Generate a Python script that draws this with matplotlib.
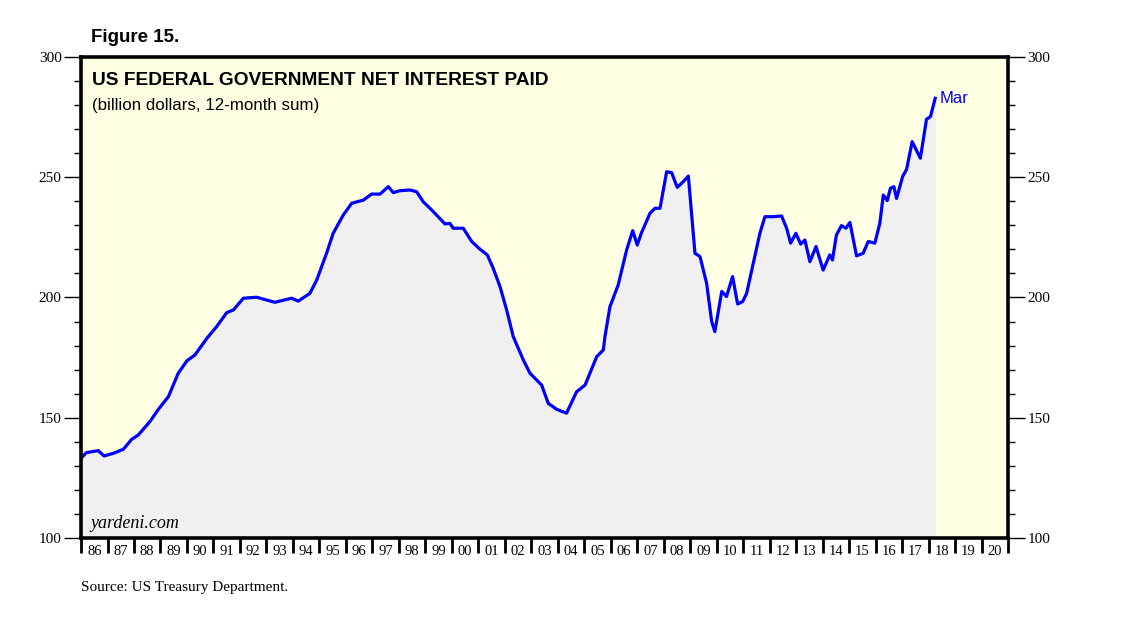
import matplotlib
matplotlib.use("Agg")
import matplotlib.pyplot as plt
from matplotlib.ticker import MultipleLocator, FixedLocator, NullFormatter, FixedFormatter

# ---- data (decimal year, billion dollars, 12-month sum) ----
years = [1986.00, 1986.20, 1986.65, 1986.87, 1987.22, 1987.60, 1987.91, 1988.16, 1988.60,
         1988.92, 1989.30, 1989.67, 1990.00, 1990.30, 1990.75, 1991.12, 1991.50, 1991.75,
         1992.13, 1992.63, 1993.32, 1993.95, 1994.20, 1994.64, 1994.90, 1995.27, 1995.52,
         1995.90, 1996.22, 1996.66, 1996.97, 1997.29, 1997.60, 1997.79, 1998.04, 1998.42,
         1998.67, 1998.92, 1999.24, 1999.74, 1999.93, 2000.05, 2000.43, 2000.75, 2001.06,
         2001.34, 2001.56, 2001.82, 2002.07, 2002.32, 2002.70, 2002.95, 2003.39, 2003.64,
         2003.96, 2004.33, 2004.71, 2005.03, 2005.47, 2005.72, 2005.78, 2005.97, 2006.28,
         2006.60, 2006.83, 2007.00, 2007.16, 2007.48, 2007.67, 2007.86, 2008.11, 2008.30,
         2008.51, 2008.74, 2008.93, 2009.18, 2009.37, 2009.62, 2009.81, 2009.93, 2010.19,
         2010.37, 2010.60, 2010.79, 2010.98, 2011.13, 2011.38, 2011.63, 2011.82, 2012.13,
         2012.45, 2012.64, 2012.79, 2012.99, 2013.17, 2013.33, 2013.52, 2013.75, 2014.02,
         2014.27, 2014.37, 2014.52, 2014.71, 2014.88, 2015.03, 2015.28, 2015.53, 2015.72,
         2015.97, 2016.16, 2016.29, 2016.44, 2016.56, 2016.69, 2016.79, 2017.02, 2017.17,
         2017.38, 2017.69, 2017.92, 2018.07, 2018.25]
interest = [133.1, 135.5, 136.3, 134.1, 135.2, 136.9, 141.0, 142.8, 148.4,
            153.5, 158.8, 168.5, 173.7, 176.1, 183.0, 187.9, 193.7, 194.8,
            199.7, 200.1, 198.0, 199.7, 198.5, 201.7, 207.3, 218.4, 226.7,
            234.3, 239.2, 240.5, 243.0, 243.0, 246.1, 243.6, 244.4, 244.7,
            244.0, 239.8, 236.4, 230.6, 230.8, 228.8, 228.8, 223.3, 220.1,
            217.7, 212.2, 204.5, 194.8, 183.7, 174.0, 168.5, 163.6, 156.0,
            153.5, 151.9, 160.8, 163.6, 175.4, 178.2, 183.7, 196.2, 205.2,
            219.8, 227.8, 221.8, 226.9, 235.0, 237.1, 237.1, 252.3, 251.9,
            245.8, 248.2, 250.5, 218.4, 217.0, 205.9, 190.0, 185.8, 202.5,
            200.4, 208.7, 197.3, 198.3, 201.7, 214.2, 226.7, 233.6, 233.6,
            233.9, 228.8, 222.6, 226.7, 222.2, 223.9, 214.9, 221.2, 211.4,
            217.7, 215.6, 226.0, 229.9, 228.8, 231.2, 217.3, 218.4, 223.3,
            222.6, 230.9, 242.6, 240.3, 245.4, 246.1, 241.2, 250.3, 253.3,
            264.8, 257.9, 274.1, 275.2, 282.8]
year_labels = ["86", "87", "88", "89", "90", "91", "92", "93", "94", "95", "96", "97",
               "98", "99", "00", "01", "02", "03", "04", "05", "06", "07", "08", "09",
               "10", "11", "12", "13", "14", "15", "16", "17", "18", "19", "20"]
first_year = 1986
last_label = "Mar"

BLUE = "#0000ff"
SANS = ["Liberation Sans", "DejaVu Sans"]
SERIF = ["Liberation Serif", "DejaVu Serif"]

fig = plt.figure(figsize=(11.38, 6.21), dpi=100)
ax = fig.add_axes([0.0712, 0.1337, 0.8146, 0.7745])
ax.set_facecolor("#ffffe4")

x0, x1 = first_year, first_year + len(year_labels)
ax.set_xlim(x0, x1)
ax.set_ylim(100, 300)

ax.fill_between(years, 100, interest, color="#f0f0f0", lw=0, zorder=1)
ax.plot(years, interest, color=BLUE, lw=2.3, solid_joinstyle="round", zorder=3)
ax.text(years[-1] + 0.15, interest[-1], last_label, color=BLUE, fontsize=12,
        family=SANS, va="center", ha="left")

for s in ax.spines.values():
    s.set_linewidth(2.6)
    s.set_zorder(5)

# y axis ticks both sides
ax.yaxis.set_major_locator(MultipleLocator(50))
ax.yaxis.set_minor_locator(MultipleLocator(10))
ax.tick_params(axis="y", which="major", direction="out", length=12, width=1.0,
               left=True, right=True, labelleft=True, labelright=True, labelsize=11, pad=2)
ax.tick_params(axis="y", which="minor", direction="out", length=5, width=1.0,
               left=True, right=True)
for lab in ax.get_yticklabels():
    lab.set_family(SERIF)

# x axis: ticks at year boundaries, labels centred in between
ax.xaxis.set_major_locator(FixedLocator([x0 + i for i in range(len(year_labels) + 1)]))
ax.xaxis.set_major_formatter(NullFormatter())
ax.xaxis.set_minor_locator(FixedLocator([x0 + i + 0.5 for i in range(len(year_labels))]))
ax.xaxis.set_minor_formatter(FixedFormatter(year_labels))
ax.tick_params(axis="x", which="major", direction="out", length=11, width=2.0)
ax.tick_params(axis="x", which="minor", length=0, labelsize=10.5, pad=5)
for lab in ax.xaxis.get_minorticklabels():
    lab.set_family(SERIF)

ax.text(0.012, 0.968, "US FEDERAL GOVERNMENT NET INTEREST PAID", transform=ax.transAxes,
        fontsize=13.8, fontweight="bold", family=SANS, va="top", ha="left")
ax.text(0.012, 0.915, "(billion dollars, 12-month sum)", transform=ax.transAxes,
        fontsize=12.2, family=SANS, va="top", ha="left")
ax.text(0.010, 0.012, "yardeni.com", transform=ax.transAxes, fontsize=13,
        style="italic", family=SERIF, va="bottom", ha="left", zorder=6)

fig.text(91 / 1138, 1 - 38 / 621, "Figure 15.", fontsize=13.5, fontweight="bold",
         family=SANS, va="center", ha="left")
fig.text(81 / 1138, 1 - 587 / 621, "Source: US Treasury Department.", fontsize=11,
         family=SERIF, va="center", ha="left")

fig.savefig("out.png", dpi=100)
